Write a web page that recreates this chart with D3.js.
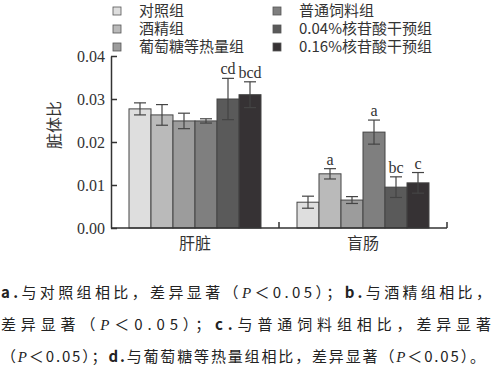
<!DOCTYPE html>
<meta charset="utf-8">
<style>
body { margin: 0; background: #fff; }
svg text { fill: #333; }
.tick text { font: 16px "Liberation Serif", serif; }
.legend text { font: 15px "Noto Sans CJK SC", sans-serif; }
.cap text { font: 15px "Noto Sans CJK SC", sans-serif; fill: #222; }
</style>
<body>
<script src="https://d3js.org/d3.v7.min.js"></script>
<script>

// data
var organs = ["肝脏", "盲肠"];
var groups = ["对照组", "酒精组", "葡萄糖等热量组", "普通饲料组", "0.04%核苷酸干预组", "0.16%核苷酸干预组"];
var liverMean = [0.0277, 0.0263, 0.0249, 0.0249, 0.0300, 0.0310];
var liverErr  = [0.0014, 0.0024, 0.0018, 0.0005, 0.0048, 0.0030];
var cecumMean = [0.0060, 0.0126, 0.0065, 0.0223, 0.0095, 0.0105];
var cecumErr  = [0.0014, 0.0012, 0.0008, 0.0028, 0.0024, 0.0024];
var liverSig  = ["", "", "", "", "cd", "bcd"];
var cecumSig  = ["", "a", "", "a", "bc", "c"];
var yTicks = [0, 0.01, 0.02, 0.03, 0.04];

var colors = ["#dedede", "#bababa", "#9c9c9c", "#7f7f7f", "#5a5a5a", "#363234"];

var svg = d3.select("body").append("svg")
  .attr("width", 500).attr("height", 366);

var y = d3.scaleLinear().domain([0, 0.04]).range([228, 56]);
var x0 = d3.scaleBand().domain(organs).range([111, 447]);
var x1 = d3.scaleBand().domain(groups).range([0, x0.bandwidth()])
  .paddingInner(0).paddingOuter(18 / 22);
var color = d3.scaleOrdinal().domain(groups).range(colors);

var rows = [];
organs.forEach(function(o, oi) {
  var m = oi == 0 ? liverMean : cecumMean;
  var e = oi == 0 ? liverErr : cecumErr;
  var s = oi == 0 ? liverSig : cecumSig;
  groups.forEach(function(g, i) {
    rows.push({organ: o, group: g, v: m[i], err: e[i], sig: s[i]});
  });
});

function cx(d) { return x0(d.organ) + x1(d.group) + x1.bandwidth() / 2; }

// bars
svg.selectAll(".bar").data(rows).enter().append("rect")
  .attr("class", "bar")
  .attr("x", function(d) { return x0(d.organ) + x1(d.group); })
  .attr("width", x1.bandwidth())
  .attr("y", function(d) { return y(d.v); })
  .attr("height", function(d) { return y(0) - y(d.v); })
  .attr("fill", function(d) { return color(d.group); })
  .attr("stroke", "#444").attr("stroke-width", 1);

// error bars
var eb = svg.selectAll(".err").data(rows).enter().append("g")
  .attr("stroke", "#444").attr("stroke-width", 1.2);
eb.append("line")
  .attr("x1", cx).attr("x2", cx)
  .attr("y1", function(d) { return y(d.v - d.err); })
  .attr("y2", function(d) { return y(d.v + d.err); });
[-1, 1].forEach(function(k) {
  eb.append("line")
    .attr("x1", function(d) { return cx(d) - 6; })
    .attr("x2", function(d) { return cx(d) + 6; })
    .attr("y1", function(d) { return y(d.v + k * d.err); })
    .attr("y2", function(d) { return y(d.v + k * d.err); });
});

// significance letters
svg.selectAll(".sig").data(rows.filter(function(d) { return d.sig; })).enter().append("text")
  .attr("x", cx)
  .attr("y", function(d) { return y(d.v + d.err) - 4; })
  .attr("text-anchor", "middle")
  .style("font", "16px 'Liberation Serif', serif")
  .text(function(d) { return d.sig; });

// y axis
var yAxis = svg.append("g").attr("transform", "translate(111,0)")
  .call(d3.axisLeft(y).tickValues(yTicks).tickFormat(d3.format(".2f")).tickSizeInner(-6).tickSizeOuter(0).tickPadding(6));
yAxis.select(".domain").attr("stroke", "#333").attr("stroke-width", 1.5);
yAxis.selectAll(".tick line").attr("stroke", "#333").attr("stroke-width", 1.5);

// x axis
svg.append("line").attr("x1", 111).attr("x2", x0.range()[1])
  .attr("y1", y(0)).attr("y2", y(0)).attr("stroke", "#333").attr("stroke-width", 1.5);
svg.selectAll(".xt").data(organs).enter().append("line")
  .attr("x1", function(d) { return x0(d) + x0.bandwidth(); })
  .attr("x2", function(d) { return x0(d) + x0.bandwidth(); })
  .attr("y1", y(0)).attr("y2", y(0) - 6)
  .attr("stroke", "#333").attr("stroke-width", 1.5);
svg.selectAll(".xl").data(organs).enter().append("text")
  .attr("x", function(d) { return x0(d) + x1("葡萄糖等热量组") + x1.bandwidth(); })
  .attr("y", 249)
  .attr("text-anchor", "middle")
  .style("font", "16px 'Noto Sans CJK SC', sans-serif")
  .text(function(d) { return d; });

// y label
svg.append("text")
  .attr("transform", "translate(60,125) rotate(-90)")
  .attr("text-anchor", "middle")
  .style("font", "16px 'Noto Sans CJK SC', sans-serif")
  .text("脏体比");

// legend
var leg = svg.selectAll(".legend").data(groups).enter().append("g")
  .attr("class", "legend")
  .attr("transform", function(d, i) {
    return "translate(" + (i < 3 ? 113 : 273) + "," + (11 + (i % 3) * 18) + ")";
  });
leg.append("rect").attr("x", 0).attr("y", -4).attr("width", 8).attr("height", 8)
  .attr("fill", function(d) { return color(d); })
  .attr("stroke", "#555").attr("stroke-width", 0.8);
leg.append("text").attr("x", 26).attr("dy", "0.35em").text(function(d) { return d; });

// caption
var caption = [
  "a.与对照组相比，差异显著（P＜0.05）；b.与酒精组相比，",
  "差异显著（P＜0.05）；c.与普通饲料组相比，差异显著",
  "（P＜0.05）；d.与葡萄糖等热量组相比，差异显著（P＜0.05）。"
];
var capLen = [490, 490, 484];
var cap = svg.append("g").attr("class", "cap").selectAll("text").data(caption).enter().append("text")
  .attr("x", 1)
  .attr("y", function(d, i) { return 298 + i * 32; })
  .attr("textLength", function(d, i) { return capLen[i]; })
  .attr("lengthAdjust", "spacing");
cap.selectAll("tspan")
  .data(function(d) { return d.split(/([a-d]\.|P)/).filter(function(s) { return s; }); })
  .enter().append("tspan")
  .style("font-weight", function(s) { return /^[a-d]\.$/.test(s) ? "bold" : null; })
  .style("font-style", function(s) { return s == "P" ? "italic" : null; })
  .style("font-family", function(s) { return s == "P" ? "'Liberation Serif', serif" : null; })
  .text(function(s) { return s; });

</script>
</body>
